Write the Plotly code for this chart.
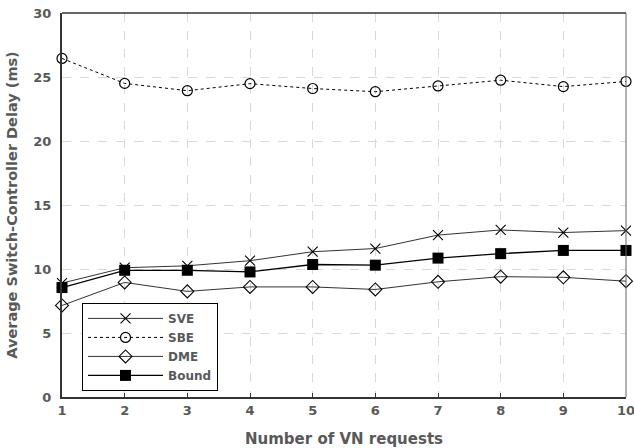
import plotly.graph_objects as go

x_vals = [1, 2, 3, 4, 5, 6, 7, 8, 9, 10]
sve = [8.9, 10.1, 10.25, 10.65, 11.35, 11.6, 12.65, 13.05, 12.85, 13.0]
sbe = [26.45, 24.5, 23.93, 24.48, 24.1, 23.85, 24.3, 24.75, 24.25, 24.65]
dme = [7.15, 8.95, 8.25, 8.6, 8.6, 8.4, 9.0, 9.4, 9.35, 9.05]
bound = [8.55, 9.9, 9.9, 9.77, 10.35, 10.3, 10.85, 11.2, 11.45, 11.45]

y_ticks = [0, 5, 10, 15, 20, 25, 30]

FONT = "DejaVu Sans"
GRAY = "#595959"

fig = go.Figure()
fig.add_trace(go.Scatter(x=x_vals, y=sve, name="SVE", mode="lines+markers",
                         line=dict(color="#333333", width=1),
                         marker=dict(symbol="x-thin-open", size=10, color="black",
                                     line=dict(color="black", width=1.1)),
                         cliponaxis=False))
fig.add_trace(go.Scatter(x=x_vals, y=sbe, name="SBE", mode="lines+markers",
                         line=dict(color="black", width=1, dash="dot"),
                         marker=dict(symbol="circle-open", size=10, color="black",
                                     line=dict(color="black", width=1.2)),
                         cliponaxis=False))
fig.add_trace(go.Scatter(x=x_vals, y=dme, name="DME", mode="lines+markers",
                         line=dict(color="#333333", width=1),
                         marker=dict(symbol="diamond-open", size=10, color="black",
                                     line=dict(color="black", width=1.1)),
                         cliponaxis=False))
fig.add_trace(go.Scatter(x=x_vals, y=bound, name="Bound", mode="lines+markers",
                         line=dict(color="black", width=1.3),
                         marker=dict(symbol="square", size=11, color="black"),
                         cliponaxis=False))

fig.update_layout(
    width=634, height=448,
    margin=dict(l=62, r=8, t=13, b=51),
    paper_bgcolor="white", plot_bgcolor="white",
    font=dict(family=FONT, color=GRAY),
    showlegend=True,
    legend=dict(x=0.0355, y=0.245, xanchor="left", yanchor="top",
                bgcolor="white", bordercolor="black", borderwidth=1,
                font=dict(family=FONT, size=12, color=GRAY, weight="bold"),
                itemwidth=75, tracegroupgap=0),
)
fig.update_xaxes(
    range=[1, 10], tickvals=x_vals, ticktext=[str(v) for v in x_vals],
    ticklabeloverflow="allow",
    showgrid=True, gridcolor="#d9d9d9", griddash="dash", gridwidth=1,
    showline=True, linecolor="#333333", linewidth=2,
    ticks="inside", ticklen=4, tickcolor="#333333",
    tickfont=dict(family=FONT, size=13, color=GRAY, weight="bold"),
    title=dict(text="Number of VN requests", standoff=17,
               font=dict(family=FONT, size=15, color=GRAY, weight="bold")),
    zeroline=False, automargin=False,
)
fig.update_yaxes(
    range=[0, 30], tickvals=y_ticks,
    showgrid=True, gridcolor="#d9d9d9", griddash="dash", gridwidth=1,
    showline=True, linecolor="#333333", linewidth=2,
    ticks="", ticklabelstandoff=6,
    tickfont=dict(family=FONT, size=13, color=GRAY, weight="bold"),
    title=dict(text="Average Switch-Controller Delay (ms)", standoff=12,
               font=dict(family=FONT, size=14.5, color=GRAY, weight="bold")),
    zeroline=False, automargin=False,
)
fig.add_shape(type="line", xref="paper", yref="paper", x0=0, x1=1, y0=1, y1=1,
              line=dict(color="#333333", width=1.5))
fig.add_shape(type="line", xref="paper", yref="paper", x0=1, x1=1, y0=0, y1=1,
              line=dict(color="#666666", width=1))

fig.write_html("out.html")
